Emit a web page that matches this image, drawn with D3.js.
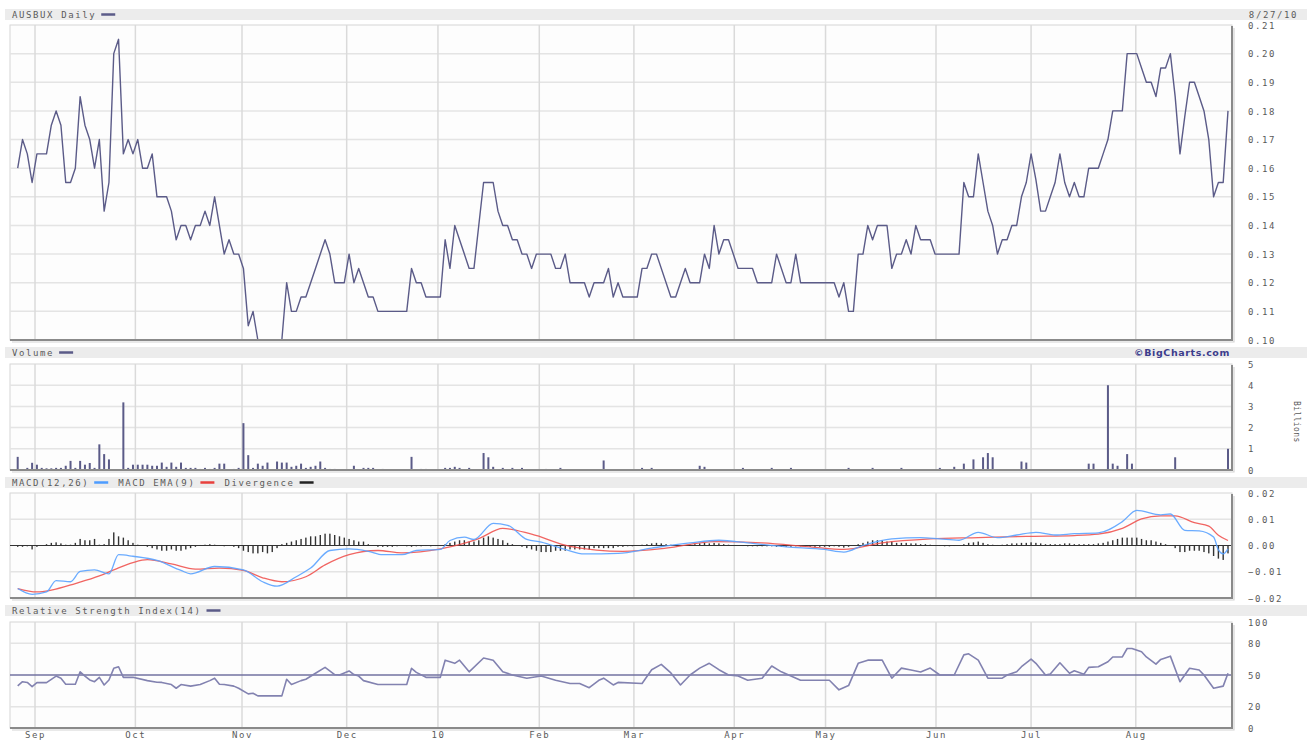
<!DOCTYPE html>
<html>
<head>
<meta charset="utf-8">
<script src="https://cdn.jsdelivr.net/npm/d3@7"></script>
<style>
body { margin: 0; background: #fff; }
text { font-family: "DejaVu Sans Mono", monospace; font-size: 9px; fill: #5a5a5a; letter-spacing: 1.6px; }
</style>
</head>
<body>
<svg id="chart" width="1312" height="742"></svg>
<script>
// trading-day index (0 = 8/27/09) and values
var months = ["Sep", "Oct", "Nov", "Dec", "10", "Feb", "Mar", "Apr", "May", "Jun", "Jul", "Aug"];
var monthIdx = [3.6, 24.5, 46.7, 68.5, 87.5, 108.6, 128.3, 149.2, 168.2, 191.2, 211, 232.8];

var price = [[0,.16],[1,.17],[2,.165],[3,.155],[4,.165],[6,.165],[7,.175],[8,.18],[9,.175],[10,.155],[11,.155],[12,.16],
  [13,.185],[14,.175],[15,.17],[16,.16],[17,.17],[18,.145],[19,.155],[20,.20],[21,.205],[22,.165],[23,.17],[24,.165],
  [25,.17],[26,.16],[27,.16],[28,.165],[29,.15],[31,.15],[32,.145],[33,.135],[34,.14],[35,.14],[36,.135],[37,.14],
  [38,.14],[39,.145],[40,.14],[41,.15],[43,.13],[44,.135],[45,.13],[46,.13],[47,.125],[48,.105],[49,.11],[50,.10],
  [55,.10],[56,.12],[57,.11],[58,.11],[59,.115],[60,.115],[62,.125],[64,.135],[65,.13],[66,.12],[68,.12],[69,.13],
  [70,.12],[71,.125],[72,.12],[73,.115],[74,.115],[75,.11],[81,.11],[82,.125],[83,.12],[84,.12],[85,.115],[88,.115],
  [89,.135],[90,.125],[91,.14],[92,.135],[93,.13],[94,.125],[95,.125],[96,.14],[97,.155],[99,.155],[100,.145],[101,.14],
  [102,.14],[103,.135],[104,.135],[105,.13],[106,.13],[107,.125],[108,.13],[111,.13],[112,.125],[113,.125],[114,.13],
  [115,.12],[118,.12],[119,.115],[120,.12],[122,.12],[123,.125],[124,.115],[125,.12],[126,.115],[129,.115],[130,.125],
  [131,.125],[132,.13],[133,.13],[136,.115],[137,.115],[138,.12],[139,.125],[140,.12],[142,.12],[143,.13],[144,.125],
  [145,.14],[146,.13],[147,.135],[148,.135],[150,.125],[153,.125],[154,.12],[157,.12],[158,.13],[160,.12],[161,.12],
  [162,.13],[163,.12],[170,.12],[171,.115],[172,.12],[173,.11],[174,.11],[175,.13],[176,.13],[177,.14],[178,.135],
  [179,.14],[181,.14],[182,.125],[183,.13],[184,.13],[185,.135],[186,.13],[187,.14],[188,.135],[190,.135],[191,.13],
  [196,.13],[197,.155],[198,.15],[199,.15],[200,.165],[201,.155],[202,.145],[203,.14],[204,.13],[205,.135],[206,.135],
  [207,.14],[208,.14],[209,.15],[210,.155],[211,.165],[212,.156],[213,.145],[214,.145],[215,.15],[216,.155],[217,.165],
  [218,.155],[219,.15],[220,.155],[221,.15],[222,.15],[223,.16],[225,.16],[226,.165],[227,.17],[228,.18],[230,.18],
  [231,.20],[233,.20],[234,.195],[235,.19],[236,.19],[237,.185],[238,.195],[239,.195],[240,.20],[241,.185],[242,.165],
  [243,.178],[244,.19],[245,.19],[246,.185],[247,.18],[248,.17],[249,.15],[250,.155],[251,.155],[252,.18]];

// volume in billions
var volume = [[0,.62],[2,.1],[3,.34],[4,.25],[5,.1],[6,.08],[7,.08],[8,.1],[9,.1],[10,.2],[11,.43],[12,.1],[13,.43],
  [14,.25],[15,.33],[16,.1],[17,1.21],[18,.75],[19,.5],[22,3.19],[23,.1],[24,.25],[25,.25],[26,.25],[27,.25],[28,.2],
  [29,.2],[30,.35],[31,.15],[32,.35],[33,.15],[34,.35],[35,.1],[36,.1],[37,.1],[38,.05],[39,.1],[40,.05],[41,.1],
  [42,.3],[43,.3],[45,.05],[46,.1],[47,2.21],[48,.7],[49,.1],[50,.3],[51,.2],[52,.35],[54,.4],[55,.35],[56,.35],
  [57,.15],[58,.2],[59,.3],[60,.1],[61,.15],[62,.2],[63,.4],[64,.1],[65,.05],[66,.05],[70,.2],[72,.1],[73,.1],[74,.1],
  [76,.05],[82,.62],[84,.05],[85,.05],[89,.1],[90,.1],[91,.15],[92,.1],[94,.1],[97,.8],[98,.6],[99,.15],[101,.1],
  [103,.1],[105,.1],[110,.05],[113,.1],[122,.45],[130,.1],[132,.1],[142,.2],[143,.15],[151,.1],[157,.1],[161,.1],
  [173,.1],[178,.1],[184,.1],[192,.1],[195,.15],[197,.3],[199,.5],[201,.6],[202,.8],[203,.6],[209,.4],[210,.35],
  [223,.3],[224,.3],[227,4.0],[228,.3],[229,.2],[231,.75],[232,.3],[241,.6],[252,1.0]];

// MACD (x 0.001)
var macd = [[0,-16.4],[3,-18.6],[6,-17.7],[8,-13.4],[11,-13.8],[13,-9.9],[16,-9.3],[19,-10.8],[21,-3.5],[24,-4.1],
  [29,-5.7],[34,-9.5],[36,-10.8],[41,-8],[47,-9.3],[51,-13.8],[54,-15.5],[58,-11.9],[61,-8.6],[65,-1.9],[69,-1.3],
  [73,-2.2],[76,-3.5],[80,-3.5],[83,-1.9],[88,-1.5],[90,1.9],[93,3.2],[95,2.3],[99,8.4],[102,7.7],[106,2.3],[109,1.3],
  [114,-1.5],[118,-3.2],[125,-3],[132,-1],[140,1],[146,2],[152,1],[160,-0.5],[168,-1.5],[172,-2.5],[176,0],[182,2.5],
  [188,3],[192,2.5],[196,2],[200,5],[204,3],[208,4],[212,5],[216,4],[220,4.5],[225,4.8],[230,9.1],[233,13.4],
  [238,11.7],[240,12],[243,5.8],[246,5.6],[249,3.2],[250,-1.7],[251,-3.2],[252,-1.3]];
var signal = [[0,-16.4],[4,-17.7],[7,-17],[12,-14.5],[17,-11.6],[20,-9.3],[24,-6.5],[27,-5.4],[32,-7],[37,-9],
  [42,-8.6],[47,-9.5],[51,-12.3],[55,-13.8],[60,-11.9],[64,-7.4],[69,-3.5],[75,-1.9],[80,-2.8],[88,-1.3],[96,2.6],
  [101,6.5],[107,4.3],[115,-0.3],[126,-2.2],[135,-1],[145,1.5],[155,1],[165,-0.5],[172,-1.5],[180,1],[190,2.5],
  [200,3],[210,3.5],[220,3.8],[225,4.3],[230,6.5],[234,10.1],[238,11.3],[241,11.3],[245,8.7],[248,7.4],[250,3.9],
  [252,1.9]];
// divergence, one value per trading day (x 0.001)
var divergence = [-0.5,-0.5,-0.3,-1.5,-0.5,
  0,0.5,1,1.2,0.8,0.3,0.3,1,
  2.5,2,2,2.5,0.3,0.5,2.5,
  5,3.5,3,2,1,0.3,0,
  -0.5,-1,-1.5,-2,-2,-1.5,-2,-2,-1.5,-1,-0.5,
  0.2,0.3,0.5,0.3,0,-0.3,0,-0.5,-1,
  -2,-2.5,-3,-3,-2.5,-3,-2.5,-1,
  0.5,1,1.5,2,2.5,3,3.5,3.5,4,4.5,4.5,4,3.5,3,2.5,2,1.5,1.5,0.5,0,-0.5,
  -0.5,-0.5,-0.5,-0.3,0,-0.3,-0.5,-0.3,-0.3,-0.2,-0.3,-0.2,-0.2,
  0.5,1,1.5,2,2,1.5,1.5,2,3,3.5,3,2.5,2,1,0.5,0,
  -0.5,-1,-1.5,-2,-2.5,-2.5,-2.5,-2,-2,-2,-1.5,-1.5,-1.5,-1.5,-1.5,-1,-1,-1,-1,-1,-0.5,-0.5,-0.3,-0.3,0,0.3,0.5,
  0.8,1,0.8,0.5,0.3,0,-0.2,0,0.3,0.5,0.8,1,0.8,1,0.8,0.5,0.3,0,0,-0.2,-0.3,-0.3,-0.3,-0.3,
  -0.3,-0.3,-0.5,-0.5,-0.5,-0.5,-0.3,-0.3,-0.3,-0.5,-0.5,-0.5,-0.5,-0.5,-0.3,-0.5,-0.8,-0.5,0,
  0.5,1,1.5,2,2,2,1.5,1.5,1,1,1,0.8,0.8,0.5,0.5,0.3,
  0,-0.2,-0.3,-0.3,-0.2,0,0.5,1,1.2,1.5,1,0.5,0.3,0.2,0.3,0.5,0.8,0.8,1,1,
  1.2,1,0.8,0.5,0.5,0.5,0.5,0.8,0.8,0.5,0.5,0.5,0.5,0.5,0.8,1,1.5,2,2.5,3,
  3,3,3,2.5,2,2,1.5,1,0.5,0,-1,
  -2.5,-2.5,-2,-2,-2,-2.5,-3,-4,-5,-5.5,-3];

var rsi = [[0,39.7],[1,43.7],[2,43],[3,39],[4,42.8],[6,42.8],[8,49],[9,47],[10,41.3],[12,41.3],[13,53],[14,49],
  [15,45.3],[16,43.7],[17,47.8],[18,40.6],[19,45.3],[20,56.3],[21,57.8],[22,47.8],[24,47.8],[27,44.7],[29,43.2],
  [30,43],[32,41],[33,37.5],[34,41],[36,39.5],[38,41],[40,44.7],[41,47],[42,41.3],[43,41],[45,39.5],[46,37.5],
  [48,32.2],[49,32.8],[50,30.3],[55,30.3],[56,46],[57,41],[59,44.7],[60,46],[62,51.6],[64,57.2],[66,50.4],[67,50],
  [69,53.8],[70,50.4],[71,49],[72,44.7],[75,41],[81,41],[82,56.3],[83,52.5],[85,47.8],[88,47.8],[89,64],[91,61],
  [92,64],[94,53],[97,66],[99,64],[101,53],[103,50],[106,47],[109,49],[112,45],[115,42],[117,42],[119,38],[121,45],
  [122,47],[124,40.6],[125,43],[130,42],[132,55],[134,60],[136,52],[138,40.6],[140,50],[142,56.5],[144,61],[146,55],
  [148,50],[150,49],[152,45],[155,47],[157,58.5],[159,53],[161,49],[163,45],[169,45],[171,36],[173,40],[175,61],
  [177,64],[180,64],[182,47],[184,56.5],[186,54.7],[188,52.8],[190,56.5],[192,50],[195,50],[197,69],[198,70],
  [200,64],[202,47],[205,47],[206,50],[208,53],[209,57.8],[211,65],[212,61],[214,50],[215,51],[217,61.5],[219,51.6],
  [220,54],[222,50.7],[223,57.2],[225,57.8],[227,62.5],[228,67],[230,67],[231,75],[232,75],[234,71.9],[235,67],
  [237,60.3],[238,64.7],[240,67.8],[242,43.7],[244,56.3],[246,54.7],[247,50],[249,37.5],[251,39.5],[252,51.6]];

var svg = d3.select("#chart");
var plotL = 10, plotR = 1232, bandL = 5, bandR = 1307;
var x = d3.scaleLinear().domain([0, 252]).range([17.7, 1228]);
var lineCol = "#5b5b88";

function header(y, items, right, rightStyle) {
	svg.append("rect").attr("x", bandL).attr("y", y).attr("width", bandR - bandL).attr("height", 11).attr("fill", "#ececec");
	var cx = 12;
	items.forEach(function (it) {
		var t = svg.append("text").attr("x", cx).attr("y", y + 8.5).text(it.label);
		cx += t.node().getComputedTextLength() + 5;
		if (it.color) {
			svg.append("line").attr("x1", cx).attr("x2", cx + 14).attr("y1", y + 5.5).attr("y2", y + 5.5)
				.attr("stroke", it.color).attr("stroke-width", 2.5);
			cx += 24;
		}
	});
	if (right) {
		var r = svg.append("text").attr("x", rightStyle ? 1230 : 1298).attr("y", y + 8.5).attr("text-anchor", "end").text(right);
		if (rightStyle) r.attr("style", rightStyle);
	}
}

function panel(top, bottom, domain, ticks, fmt, grid) {
	var y = d3.scaleLinear().domain(domain).range([bottom, top]);
	var g = svg.append("g");
	g.append("rect").attr("x", plotL).attr("y", top).attr("width", plotR - plotL).attr("height", bottom - top)
		.attr("fill", "#fdfdfd").attr("stroke", "#d6d6d6");
	g.selectAll("line.hg").data(grid).enter().append("line").attr("class", "hg")
		.attr("x1", plotL).attr("x2", plotR).attr("y1", function (d) { return y(d); }).attr("y2", function (d) { return y(d); })
		.attr("stroke", "#e4e4e4").attr("stroke-width", 1.5);
	g.selectAll("line.vg").data(monthIdx).enter().append("line").attr("class", "vg")
		.attr("x1", function (d) { return x(d); }).attr("x2", function (d) { return x(d); })
		.attr("y1", top).attr("y2", bottom).attr("stroke", "#dadada").attr("stroke-width", 1.5);
	var ax = svg.append("g").attr("transform", "translate(1248,0)")
		.call(d3.axisRight(y).tickValues(ticks).tickFormat(fmt).tickSize(0).tickPadding(0));
	ax.select(".domain").remove();
	ax.selectAll("text").attr("font-family", null).attr("font-size", null).attr("fill", null).attr("dy", "0.35em");
	return { g: g, y: y, top: top, bottom: bottom };
}

function frame(p) {
	svg.append("path").attr("d", "M" + plotR + "," + (p.top + 1) + "V" + p.bottom + "H" + plotL)
		.attr("fill", "none").attr("stroke", "#8a8a8a").attr("stroke-width", 2);
	svg.append("path").attr("d", "M" + (plotR + 2) + "," + (p.top + 3) + "V" + (p.bottom + 2) + "H" + (plotL + 2))
		.attr("fill", "none").attr("stroke", "#d4d4d4").attr("stroke-width", 1.2);
}

var minus = function (f) { return function (d) { return f(d).replace("-", "\u2212"); }; };

// price
header(9, [{ label: "AUSBUX Daily", color: lineCol }], "8/27/10");
var pp = panel(25, 340, [0.10, 0.21], d3.range(0.10, 0.2101, 0.01), d3.format(".2f"), d3.range(0.11, 0.2001, 0.01));
pp.g.append("path").datum(price)
	.attr("d", d3.line().x(function (d) { return x(d[0]); }).y(function (d) { return pp.y(d[1]); }))
	.attr("fill", "none").attr("stroke", lineCol).attr("stroke-width", 1.4).attr("stroke-linejoin", "round");
frame(pp);

// volume
header(347, [{ label: "Volume", color: lineCol }], "\u00a9BigCharts.com",
	"font-family:Verdana,'DejaVu Sans',sans-serif;font-weight:bold;font-size:9.5px;fill:#3c3c8c;letter-spacing:0.6px");
var vp = panel(364, 470, [0, 5], [0, 1, 2, 3, 4, 5], d3.format("d"), [1, 2, 3, 4]);
vp.g.selectAll("rect.vol").data(volume).enter().append("rect").attr("class", "vol")
	.attr("x", function (d) { return x(d[0]) - 1; }).attr("width", 2)
	.attr("y", function (d) { return vp.y(d[1]); }).attr("height", function (d) { return vp.y(0) - vp.y(d[1]); })
	.attr("fill", lineCol);
frame(vp);
svg.append("text").attr("transform", "translate(1294,401) rotate(90)").attr("style", "font-size:8px;letter-spacing:0.4px").text("Billions");

// MACD
header(477, [{ label: "MACD(12,26)", color: "#4d9cff" }, { label: "MACD EMA(9)", color: "#e8403c" }, { label: "Divergence", color: "#222" }]);
var mp = panel(493, 598, [-0.02, 0.02], [-0.02, -0.01, 0, 0.01, 0.02], minus(d3.format(".2f")), [-0.01, 0.01]);
mp.g.append("line").attr("x1", plotL).attr("x2", plotR).attr("y1", mp.y(0)).attr("y2", mp.y(0))
	.attr("stroke", "#333").attr("stroke-width", 1.2);
mp.g.selectAll("rect.div").data(divergence).enter().append("rect").attr("class", "div")
	.attr("x", function (d, i) { return x(i) - 0.7; }).attr("width", 1.4)
	.attr("y", function (d) { return mp.y(Math.max(0, d / 1000)); })
	.attr("height", function (d) { return Math.abs(mp.y(0) - mp.y(d / 1000)); })
	.attr("fill", "#333");
var mline = d3.line().x(function (d) { return x(d[0]); }).y(function (d) { return mp.y(d[1] / 1000); }).curve(d3.curveMonotoneX);
mp.g.append("path").datum(signal).attr("d", mline).attr("fill", "none").attr("stroke", "#ee4a46").attr("stroke-width", 1.3).attr("opacity", 0.85);
mp.g.append("path").datum(macd).attr("d", mline).attr("fill", "none").attr("stroke", "#5aa2ff").attr("stroke-width", 1.3).attr("opacity", 0.9);
frame(mp);

// RSI
header(605, [{ label: "Relative Strength Index(14)", color: lineCol }]);
var rp = panel(622, 728, [0, 100], [0, 20, 50, 80, 100], d3.format("d"), [20, 80]);
rp.g.append("line").attr("x1", plotL).attr("x2", plotR).attr("y1", rp.y(50)).attr("y2", rp.y(50))
	.attr("stroke", "#7272a0").attr("stroke-width", 1.3);
rp.g.append("path").datum(rsi)
	.attr("d", d3.line().x(function (d) { return x(d[0]); }).y(function (d) { return rp.y(d[1]); }))
	.attr("fill", "none").attr("stroke", "#8282b0").attr("stroke-width", 1.6).attr("stroke-linejoin", "round");
frame(rp);

var xa = svg.append("g").attr("transform", "translate(0,729)")
	.call(d3.axisBottom(x).tickValues(monthIdx).tickFormat(function (d, i) { return months[i]; }).tickSize(0).tickPadding(3));
xa.select(".domain").remove();
xa.selectAll("text").attr("font-family", null).attr("font-size", null).attr("fill", null);
</script>
</body>
</html>
